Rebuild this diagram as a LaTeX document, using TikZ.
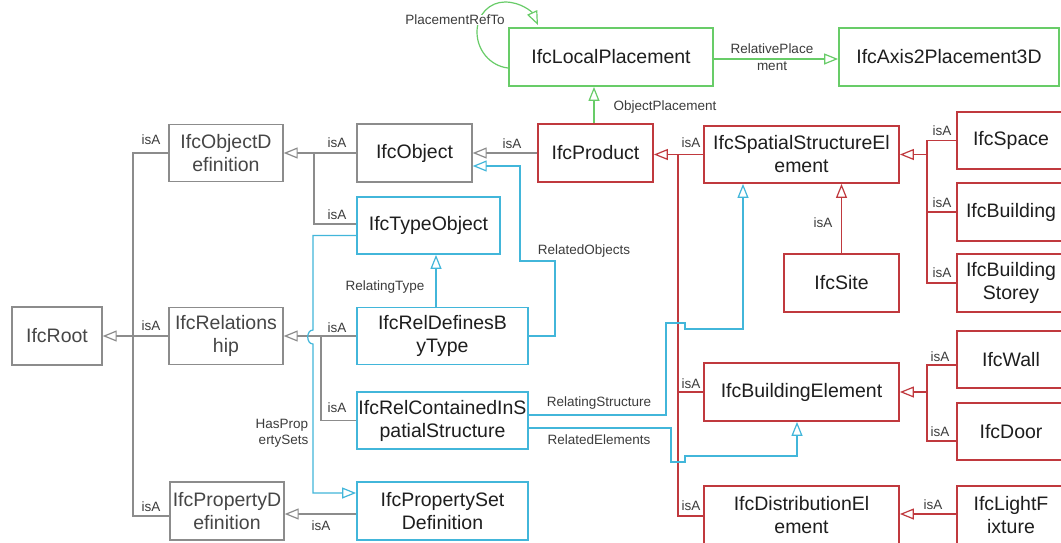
\documentclass[tikz,border=0pt]{standalone}
\usepackage{fontspec}
\setmainfont{Liberation Sans}
\usetikzlibrary{arrows.meta,calc}

\definecolor{gry}{RGB}{140,140,140}
\definecolor{gtext}{RGB}{70,70,70}
\definecolor{redc}{RGB}{192,57,62}
\definecolor{grnc}{RGB}{104,204,104}
\definecolor{bluc}{RGB}{66,182,218}
\definecolor{ink}{RGB}{30,30,30}
\definecolor{lbltext}{RGB}{60,60,60}

\begin{document}
\begin{tikzpicture}[x=1pt,y=-1pt,
  box/.style={draw, line width=1.8pt, align=center, inner sep=0pt, text=ink,
    font=\fontsize{19.5}{23}\selectfont},
  greybox/.style={box, draw=gry, line width=1.4pt, text=gtext},
  redbox/.style={box, draw=redc},
  greenbox/.style={box, draw=grnc},
  bluebox/.style={box, draw=bluc},
  gline/.style={draw=gry, line width=1.2pt},
  rline/.style={draw=redc, line width=1.2pt},
  gnline/.style={draw=grnc, line width=1.2pt},
  bline/.style={draw=bluc, line width=1.2pt},
  isa/.style={-{Triangle[length=14pt,width=11pt,fill=white]}},
  lbl/.style={font=\fontsize{13.5}{16.5}\selectfont, text=lbltext, inner sep=0pt, align=center},
]
\fill[white] (0,0) rectangle (1061,542);
\useasboundingbox (0,0) rectangle (1061,542);

% ---- class boxes ----
\node[greybox, minimum width=90pt,  minimum height=58pt] (root)    at (57,336)    {IfcRoot};
\node[greybox, minimum width=114pt, minimum height=57pt] (objdef)  at (226,153)   {IfcObjectD\\efinition};
\node[greybox, minimum width=114pt, minimum height=57pt] (rel)     at (226,336)   {IfcRelations\\hip};
\node[greybox, minimum width=114pt, minimum height=58pt] (propdef) at (227,511)   {IfcPropertyD\\efinition};
\node[greybox, text=ink, minimum width=115pt, minimum height=58pt] (obj) at (414.5,153) {IfcObject};

\node[bluebox, minimum width=143pt, minimum height=57pt] (typeobj) at (428.5,225.5) {IfcTypeObject};
\node[bluebox, minimum width=171pt, minimum height=57pt] (relDef)  at (442.5,336)   {IfcRelDefinesB\\yType};
\node[bluebox, minimum width=171pt, minimum height=57pt] (relCont) at (442.5,420.5) {IfcRelContainedInS\\patialStructure};
\node[bluebox, minimum width=171pt, minimum height=58pt] (psetdef) at (442.5,511)   {IfcPropertySet\\Definition};

\node[greenbox, minimum width=204pt, minimum height=58pt] (localpl) at (611,57) {IfcLocalPlacement};
\node[greenbox, minimum width=220pt, minimum height=58pt] (axis)    at (949,57) {IfcAxis2Placement3D};

\node[redbox, minimum width=115pt, minimum height=58pt] (product)  at (595.5,153) {IfcProduct};
\node[redbox, minimum width=195pt, minimum height=57pt] (sse)      at (801.5,154.5) {IfcSpatialStructureEl\\ement};
\node[redbox, minimum width=115pt, minimum height=58pt] (site)     at (841.5,283) {IfcSite};
\node[redbox, minimum width=195pt, minimum height=58pt] (buildEl)  at (801.5,392) {IfcBuildingElement};
\node[redbox, minimum width=195pt, minimum height=58pt] (distEl)   at (801.5,515) {IfcDistributionEl\\ement};
\node[redbox, minimum width=108pt, minimum height=57pt] (space)    at (1011,140.5) {IfcSpace};
\node[redbox, minimum width=108pt, minimum height=58pt] (building) at (1011,212) {IfcBuilding};
\node[redbox, minimum width=108pt, minimum height=58pt] (storey)   at (1011,283) {IfcBuilding\\Storey};
\node[redbox, minimum width=108pt, minimum height=57pt] (wall)     at (1011,359.5) {IfcWall};
\node[redbox, minimum width=108pt, minimum height=57pt] (door)     at (1011,431.5) {IfcDoor};
\node[redbox, minimum width=108pt, minimum height=58pt] (light)    at (1011,515) {IfcLightF\\ixture};

% ---- grey inheritance ----
\coordinate (rx) at (133,0);
\coordinate (pdL) at ([yshift=-5pt]propdef.west);
\draw[gline] (objdef.west) -| (rx |- pdL) -- (pdL);
\draw[gline,isa] (rel.west) -- (rel.west -| root.east);

\coordinate (ox) at (314,0);
\draw[gline,isa] (obj.west) -- (obj.west -| objdef.east);
\draw[gline] ([yshift=1.5pt]typeobj.west) -| (ox |- obj.west);

\coordinate (rlx) at (321,0);
\draw[gline,isa] (relDef.west) -- (relDef.west -| rel.east);
\draw[gline] (relCont.west) -| (rlx |- relDef.west);

\coordinate (psW) at ([yshift=-3pt]psetdef.west);
\draw[gline,isa] (psW) -- (psW -| propdef.east);

\draw[gline,isa] (product.west) -- (product.west -| obj.east);

% ---- red inheritance ----
\coordinate (px) at (678,0);
\draw[rline,isa] (sse.west) -- (sse.west -| product.east);
\draw[rline] ([yshift=-1pt]distEl.west) -| (px |- sse.west);
\draw[rline] (buildEl.west) -- (buildEl.west -| px);
\draw[rline,isa] (site.north) -- (site.north |- sse.south);

\coordinate (sx) at (927,0);
\draw[rline,isa] (sx |- sse.east) -- (sse.east);
\draw[rline] (space.west) -| (sx |- sse.east);
\draw[rline] (storey.west) -| (sx |- sse.east);
\draw[rline] (building.west) -- (building.west -| sx);

\coordinate (wl) at ([yshift=-5.5pt]wall.west);
\coordinate (dl) at ([yshift=-9.5pt]door.west);
\draw[rline,isa] (sx |- buildEl.east) -- (buildEl.east);
\draw[rline] (wl) -| (sx |- buildEl.east);
\draw[rline] (dl) -| (sx |- buildEl.east);

\coordinate (ltW) at ([yshift=1pt]light.west);
\draw[rline,isa] (ltW) -- (ltW -| distEl.east);

% ---- green placement links ----
\coordinate (op) at ([xshift=-1.5pt]product.north);
\draw[gnline,isa] (op) -- (op |- localpl.south);
\coordinate (lpE) at ([yshift=-2pt]localpl.east);
\draw[gnline,isa] (lpE) -- (lpE -| axis.west);
\coordinate (lpLoop) at ([yshift=-11pt]localpl.west);
\coordinate (lpTop) at ([xshift=-73pt, yshift=2pt]localpl.north);
\draw[gnline,isa] (lpLoop) .. controls (490,66) and (477,50) .. (477,32)
  .. controls (477,14) and (490,2) .. (505,2)
  .. controls (521,2) and (532,12) .. (lpTop);

% ---- blue relationship links ----
\coordinate (hx) at (313,0);
\coordinate (tyL) at ([yshift=-10pt]typeobj.west);
\coordinate (psL) at ([yshift=18pt]psetdef.west);
\draw[bline,isa] (tyL) -- (tyL -| hx) -- (313,330)
  .. controls (306,330) and (306,344) .. (313,344) -- (psL -| hx) -- (psL);

\coordinate (rt) at ([xshift=-6.5pt]relDef.north);
\draw[bline,isa] (rt) -- (rt |- typeobj.south);

\coordinate (obE) at ([yshift=-13pt]obj.east);
\draw[bline,isa] (relDef.east) -| (555,261) -| (520,166) -- (obE);

\coordinate (rsL) at ([yshift=5.5pt]relCont.east);
\coordinate (ssB) at ([xshift=-58.5pt]sse.south);
\draw[bline,isa] (rsL) -| (666,323) -- (685,323) -- (685,329) -| (ssB);

\coordinate (reL) at ([yshift=-7.5pt]relCont.east);
\coordinate (beB) at ([xshift=-4.5pt]buildEl.south);
\draw[bline,isa] (reL) -| (671,462) -- (685,462) -- (685,456) -| (beB);

% ---- labels ----
\node[lbl, fill=white] (lPRT) at (455,20)  {PlacementRefTo};
\node[lbl] (lRP)  at (772,57)  {RelativePlace\\ment};
\node[lbl] (lOP)  at (665,107) {ObjectPlacement};
\node[lbl] (lRO)  at (584,251) {RelatedObjects};
\node[lbl] (lRT)  at (385,287) {RelatingType};
\node[lbl, align=right] (lHPS) at (282,433) {HasProp\\ertySets};
\node[lbl] (lRS)  at (599,403) {RelatingStructure};
\node[lbl] (lRE)  at (599,440) {RelatedElements};

\node[lbl] (i1)  at (151,140) {isA};
\node[lbl] (i2)  at (151,326) {isA};
\node[lbl] (i3)  at (151,507) {isA};
\node[lbl] (i4)  at (337,143) {isA};
\node[lbl] (i5)  at (337,215) {isA};
\node[lbl] (i6)  at (337,328) {isA};
\node[lbl] (i7)  at (337,408) {isA};
\node[lbl] (i8)  at (321,526) {isA};
\node[lbl] (i9)  at (512,144) {isA};
\node[lbl] (i10) at (691,143) {isA};
\node[lbl] (i11) at (691,384) {isA};
\node[lbl] (i12) at (691,506) {isA};
\node[lbl] (i13) at (942,131) {isA};
\node[lbl] (i14) at (942,203) {isA};
\node[lbl] (i15) at (942,273) {isA};
\node[lbl] (i16) at (940,357) {isA};
\node[lbl] (i17) at (940,432) {isA};
\node[lbl] (i18) at (933,505) {isA};
\node[lbl] (i19) at (823,223) {isA};
\end{tikzpicture}
\end{document}
